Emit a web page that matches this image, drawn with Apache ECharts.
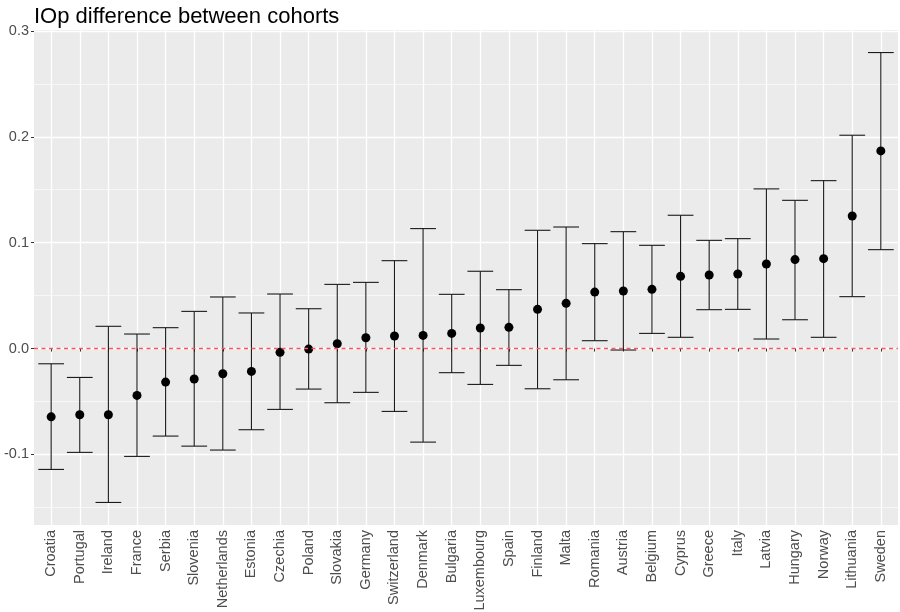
<!DOCTYPE html>
<html>
<head>
<meta charset="utf-8">
<script src="https://cdn.jsdelivr.net/npm/echarts@6/dist/echarts.min.js"></script>
<style>
html,body{margin:0;padding:0;background:#fff;}
#chart{width:900px;height:612px;}
</style>
</head>
<body>
<div id="chart"></div>
<script>
var countries = ['Croatia','Portugal','Ireland','France','Serbia','Slovenia','Netherlands','Estonia','Czechia','Poland','Slovakia','Germany','Switzerland','Denmark','Bulgaria','Luxembourg','Spain','Finland','Malta','Romania','Austria','Belgium','Cyprus','Greece','Italy','Latvia','Hungary','Norway','Lithuania','Sweden'];
var estimate = [-0.0645,-0.0626,-0.0626,-0.0443,-0.0317,-0.0288,-0.0238,-0.0216,-0.0036,-0.0005,0.0045,0.0102,0.0118,0.0124,0.0143,0.0194,0.0200,0.0370,0.0427,0.0533,0.0543,0.0559,0.0682,0.0695,0.0704,0.0799,0.0840,0.0849,0.1252,0.1867];
var lower = [-0.1142,-0.0981,-0.1454,-0.1019,-0.0827,-0.0922,-0.0959,-0.0767,-0.0575,-0.0383,-0.0512,-0.0414,-0.0594,-0.0884,-0.0228,-0.0339,-0.0159,-0.0380,-0.0295,0.0074,-0.0014,0.0143,0.0106,0.0367,0.0370,0.0090,0.0272,0.0106,0.0490,0.0934];
var upper = [-0.0144,-0.0273,0.0210,0.0137,0.0197,0.0351,0.0487,0.0336,0.0515,0.0376,0.0606,0.0625,0.0830,0.1133,0.0512,0.0730,0.0556,0.1117,0.1148,0.0991,0.1104,0.0975,0.1259,0.1022,0.1038,0.1508,0.1400,0.1586,0.2015,0.2796];
var yMajorTicks = [-0.1, 0.0, 0.1, 0.2, 0.3];
var yMinorTicks = [-0.15, -0.05, 0.05, 0.15, 0.25];
var titleText = 'IOp difference between cohorts';

var positions = countries.map(function (c, i) { return i + 1; });
var errData = countries.map(function (c, i) { return [i + 1, lower[i], upper[i]]; });
var ptData = countries.map(function (c, i) { return [i + 1, estimate[i]]; });

var FONT = "'Liberation Sans', Arial, sans-serif";
var chart = echarts.init(document.getElementById('chart'), null, {renderer: 'canvas'});
var yMin = -0.1667, yMax = 0.3009;

chart.setOption({
  animation: false,
  backgroundColor: '#ffffff',
  title: {
    text: titleText,
    left: 29,
    top: 1,
    textStyle: {fontFamily: FONT, fontSize: 22, fontWeight: 'normal', color: '#000000'}
  },
  grid: {
    left: 34, right: 2, top: 30, bottom: 87,
    show: true, backgroundColor: '#EBEBEB', borderWidth: 0,
    containLabel: false, outerBoundsMode: 'none'
  },
  xAxis: {
    type: 'value', min: 0.4, max: 30.6,
    axisLine: {show: false},
    axisTick: {show: true, customValues: positions, length: 3, lineStyle: {color: '#333333', width: 1}},
    axisLabel: {
      show: true, customValues: positions, rotate: 90, margin: 5,
      fontFamily: FONT, fontSize: 14.5, color: '#4D4D4D',
      formatter: function (v) { return countries[Math.round(v) - 1] || ''; }
    },
    splitLine: {show: true, lineStyle: {color: '#FFFFFF', width: 1.3}}
  },
  yAxis: [{
    type: 'value', min: yMin, max: yMax,
    axisLine: {show: false},
    axisTick: {show: true, customValues: yMajorTicks, length: 3, lineStyle: {color: '#333333', width: 1}},
    axisLabel: {
      show: true, customValues: yMajorTicks, margin: 5,
      fontFamily: FONT, fontSize: 14.5, color: '#4D4D4D',
      formatter: function (v) { return v.toFixed(1); }
    },
    splitLine: {show: true, lineStyle: {color: '#FFFFFF', width: 1.3}}
  }, {
    type: 'value', min: yMin, max: yMax, position: 'left',
    axisLine: {show: false},
    axisTick: {show: false, customValues: yMinorTicks},
    axisLabel: {show: false, customValues: yMinorTicks},
    splitLine: {show: true, lineStyle: {color: '#FFFFFF', width: 0.6}}
  }],
  series: [{
    type: 'custom',
    data: errData,
    encode: {x: 0, y: [1, 2]},
    renderItem: function (params, api) {
      var x = api.value(0);
      var lo = api.coord([x, api.value(1)]);
      var hi = api.coord([x, api.value(2)]);
      var hw = api.size([0.9, 0])[0] / 2;
      var st = {stroke: '#1A1A1A', lineWidth: 1.1};
      return {type: 'group', children: [
        {type: 'line', shape: {x1: lo[0], y1: lo[1], x2: hi[0], y2: hi[1]}, style: st},
        {type: 'line', shape: {x1: lo[0] - hw, y1: lo[1], x2: lo[0] + hw, y2: lo[1]}, style: st},
        {type: 'line', shape: {x1: hi[0] - hw, y1: hi[1], x2: hi[0] + hw, y2: hi[1]}, style: st}
      ]};
    },
    silent: true
  }, {
    type: 'scatter',
    data: ptData,
    symbol: 'circle',
    symbolSize: 9,
    itemStyle: {color: '#000000', opacity: 1},
    silent: true,
    markLine: {
      silent: true,
      symbol: ['none', 'none'],
      label: {show: false},
      lineStyle: {color: '#FF5555', type: [4, 3.5], width: 1.4, opacity: 1},
      data: [{yAxis: 0}]
    }
  }]
});
</script>
</body>
</html>
